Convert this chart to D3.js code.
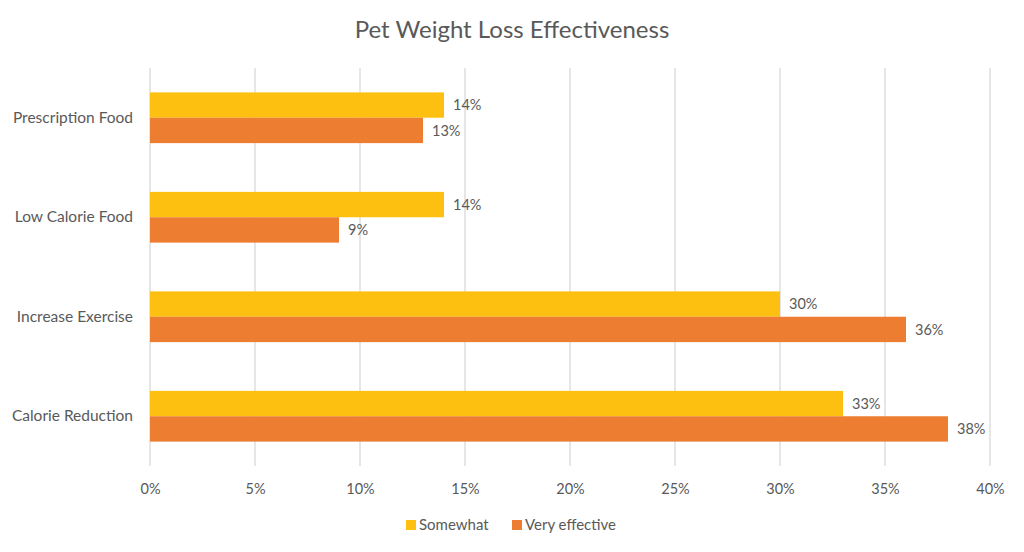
<!DOCTYPE html>
<html><head><meta charset="utf-8">
<script src="https://cdn.jsdelivr.net/npm/d3@7"></script>
<style>body{margin:0;background:#fff}text{font-family:Lato,"Open Sans",sans-serif;fill:#595959}</style>
</head><body><svg id="c" width="1024" height="552"></svg>
<script>
const categories = ["Prescription Food","Low Calorie Food","Increase Exercise","Calorie Reduction"];
const seriesNames = ["Somewhat","Very effective"];
const somewhat = [14,14,30,33];
const veryEffective = [13,9,36,38];
const xTicks = [0,5,10,15,20,25,30,35,40];
const colors = ["#FDC010","#ED7D31"];

(function(){
const svg = d3.select("#c");
const mL = 150, mR = 990, mT = 68, mB = 466;
const x = d3.scaleLinear().domain([0,40]).range([mL,mR]);
const y = d3.scaleBand().domain(categories).range([mT,mB]).paddingInner(0.49).paddingOuter(0.245);
const y2 = d3.scaleBand().domain(seriesNames).range([0,y.bandwidth()]);

svg.append("text").attr("x",512).attr("y",38).attr("text-anchor","middle").style("font-size","24px").text("Pet Weight Loss Effectiveness");

svg.append("g").selectAll("line").data(xTicks).join("line")
  .attr("x1",d=>x(d)).attr("x2",d=>x(d)).attr("y1",mT).attr("y2",mB)
  .attr("stroke","#d9d9d9").attr("stroke-width",1.3);

const xa = svg.append("g").attr("transform",`translate(0,${mB})`)
  .call(d3.axisBottom(x).tickValues(xTicks).tickFormat(d=>d+"%").tickSize(0).tickPadding(18));
xa.select(".domain").remove();
xa.selectAll("text").style("font-size","14.5px").style("fill","#595959").style("font-family","Lato,'Open Sans',sans-serif");

const ya = svg.append("g").attr("transform",`translate(${mL},0)`)
  .call(d3.axisLeft(y).tickSize(0).tickPadding(17));
ya.select(".domain").remove();
ya.selectAll("text").style("font-size","15.5px").style("fill","#595959").style("font-family","Lato,'Open Sans',sans-serif");

const data = categories.map((c,i)=>({c, vals:[somewhat[i],veryEffective[i]]}));
const g = svg.append("g").selectAll("g").data(data).join("g").attr("transform",d=>`translate(0,${y(d.c)})`);
g.selectAll("rect").data(d=>d.vals.map((v,j)=>({v,s:seriesNames[j],j}))).join("rect")
  .attr("x",x(0)).attr("y",d=>y2(d.s)).attr("width",d=>x(d.v)-x(0)).attr("height",y2.bandwidth())
  .attr("fill",d=>colors[d.j]);
g.selectAll("text").data(d=>d.vals.map((v,j)=>({v,s:seriesNames[j],j}))).join("text")
  .attr("x",d=>x(d.v)+9).attr("y",d=>y2(d.s)+y2.bandwidth()/2).attr("dy","0.35em")
  .style("font-size","14.5px").text(d=>d.v+"%");

const lg = svg.append("g").attr("transform","translate(406,525)");
const items = [{n:"Somewhat",x:0},{n:"Very effective",x:106}];
items.forEach((it,i)=>{
  lg.append("rect").attr("x",it.x).attr("y",-5).attr("width",10).attr("height",10).attr("fill",colors[i]);
  lg.append("text").attr("x",it.x+13).attr("y",0).attr("dy","0.35em").style("font-size","15px").text(it.n);
});
})();
</script></body></html>
